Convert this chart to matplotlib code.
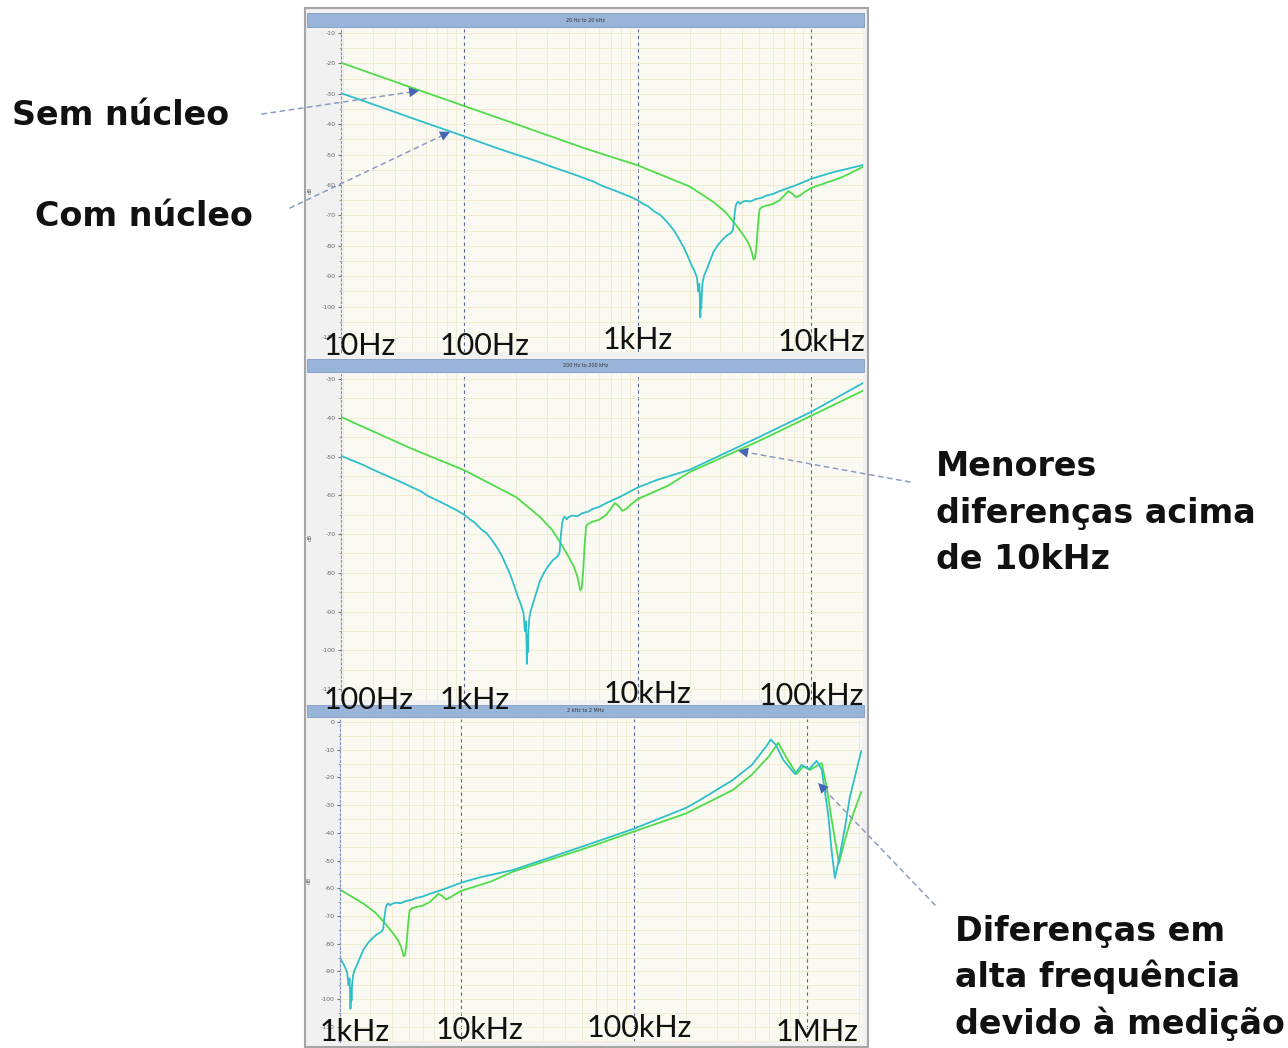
import numpy as np
import matplotlib.pyplot as plt
from matplotlib.patches import Rectangle
from matplotlib.ticker import LogLocator, MultipleLocator, NullFormatter

plt.rcParams['axes.unicode_minus'] = False

W, H = 1288, 1048

# "Sem núcleo" (green) - frequency in Hz, level in dB
freq_sem = [20, 50, 100, 200, 500, 1000, 2000, 2740, 3200, 3600, 4000, 4300, 4500,
            4670, 4760, 4850, 4950, 5050, 5200, 5500, 6000, 6600, 7000, 7400, 7800,
            8160, 8600, 9200, 10000, 15000, 20000, 50000, 100000, 200000, 373000,
            480000, 600000, 682000, 760000, 872000, 952000, 1040000, 1216000,
            1300000, 1360000, 1530000, 1650000, 1770000, 2060000]
db_sem = [-20, -28, -34, -40, -48, -53.5, -60.5, -65.6, -68.8, -72.3, -75.8, -78.5, -81,
          -84.5, -84, -80, -73, -68, -67.3, -66.8, -66.3, -65, -63.5, -62, -62.8,
          -64, -63.5, -62.3, -61, -57.5, -54, -46, -39.5, -33, -24.5,
          -19, -12.5, -7.5, -12.8, -18.8, -16, -17.3, -14.8,
          -23.4, -31.8, -51, -43, -36.5, -25.2]

# "Com núcleo" (cyan)
freq_com = [20, 30, 50, 76, 100, 150, 200, 260, 320, 400, 450, 500, 560, 620, 730, 800,
            850, 920, 1000, 1080, 1150, 1250, 1350, 1450, 1550, 1650, 1760, 1850, 1950,
            2050, 2120, 2200, 2240, 2270, 2290, 2300, 2315, 2330, 2350, 2380, 2420, 2500,
            2600, 2740, 2900, 3050, 3250, 3450, 3550, 3620, 3680, 3730, 3800, 3900, 4000,
            4200, 4500, 4800, 5200, 5500, 6000, 6600, 8000, 10000, 13000, 20000, 50000,
            100000, 200000, 240000, 373000, 480000, 580000, 617000, 660000, 730000,
            853000, 931000, 1030000, 1137000, 1216000, 1330000, 1380000, 1450000,
            1550000, 1660000, 1770000, 2060000]
db_com = [-30, -33.5, -38, -41.6, -44, -47.6, -50, -52.1, -54.0, -55.9, -56.9, -57.9, -58.9,
          -60.2, -61.7, -62.6, -63.2, -64.0, -65, -66.2, -67.0, -68.7, -69.8, -71.6, -73.5,
          -75.6, -78.4, -80.6, -83.5, -86.4, -88.0, -90.4, -95, -92.5, -98, -103.5, -96,
          -100.5, -94.5, -91.5, -89.8, -87.8, -85.3, -82, -79.8, -78.3, -76.7, -75.8,
          -74.8, -70, -67, -66, -65.5, -66.2, -65.6, -65.2, -65.4, -64.6, -64.2, -63.5,
          -63, -62, -60.3, -58, -56, -53.4, -45, -38.5, -31, -28.2, -20.9, -15.5, -8.9,
          -6.3, -8.2, -13.7, -18.8, -15.5, -17, -14, -17, -34, -45, -56.3,
          -48, -37.8, -27, -10.5]

titles = ['20 Hz to 20 kHz', '200 Hz to 200 kHz', '2 kHz to 2 MHz']
freq_labels = [['10Hz', '100Hz', '1kHz', '10kHz'],
               ['100Hz', '1kHz', '10kHz', '100kHz'],
               ['1kHz', '10kHz', '100kHz', '1MHz']]

green = '#4fdc4a'
cyan = '#2ebfcb'


def box(x0, y0, x1, y1):
    return [x0 / W, 1 - y1 / H, (x1 - x0) / W, (y1 - y0) / H]


fig = plt.figure(figsize=(W / 100, H / 100), dpi=100)
fig.patch.set_facecolor('white')

fig.add_artist(Rectangle((305 / W, 1 - 1047 / H), 563 / W, 1039 / H,
                         transform=fig.transFigure, facecolor='#f1f1f1',
                         edgecolor='#a5a5a5', lw=1.5, zorder=-5))

# layout of the three screenshots (pixels, top-left origin)
rects = [(341, 29, 863, 352), (341, 374, 863, 700), (340, 719, 862, 1042)]
bars = [(307, 13, 864, 27), (307, 359, 864, 372), (307, 705, 864, 717)]
xlims = [(19.5, 19950), (195, 199500), (2000, 2080000)]
ylims = [(-114.9, -8.7), (-112.8, -28.7), (-115.5, 1.1)]
label_pos = [[(360, 355), (485, 355), (638, 349), (822, 351)],
             [(369, 709), (475, 709), (648, 703), (811, 705)],
             [(355, 1041), (480, 1039), (639, 1037), (817, 1041)]]

axes = []
for i in range(3):
    x0, y0, x1, y1 = bars[i]
    fig.add_artist(Rectangle((x0 / W, 1 - y1 / H), (x1 - x0) / W, (y1 - y0) / H,
                             transform=fig.transFigure, facecolor='#98b4d8',
                             edgecolor='#7f9cc4', lw=0.6, zorder=-4))
    fig.text((x0 + x1) / 2 / W, 1 - (y0 + y1) / 2 / H, titles[i], fontsize=3.5,
             color='#333333', ha='center', va='center')

    ax = fig.add_axes(box(*rects[i]))
    ax.set_facecolor('#fbfaf2')
    ax.set_xscale('log')
    ax.plot(freq_sem, db_sem, color=green, lw=1.3)
    ax.plot(freq_com, db_com, color=cyan, lw=1.3)
    ax.set_xlim(*xlims[i])
    ax.set_ylim(*ylims[i])

    ax.xaxis.set_major_locator(LogLocator(base=10, numticks=12))
    ax.xaxis.set_minor_locator(LogLocator(base=10, subs=np.arange(2, 10), numticks=40))
    ax.xaxis.set_major_formatter(NullFormatter())
    ax.xaxis.set_minor_formatter(NullFormatter())
    ax.tick_params(axis='x', which='both', length=0)
    ax.yaxis.set_major_locator(MultipleLocator(10))
    ax.yaxis.set_minor_locator(MultipleLocator(5))
    ax.grid(which='minor', axis='x', color='#efeacd', lw=0.6)
    ax.grid(which='major', axis='x', color='#56648f', lw=0.8, ls=(0, (3, 3)))
    ax.grid(which='both', axis='y', color='#efeacd', lw=0.6)
    ax.set_axisbelow(True)
    ax.tick_params(axis='y', which='major', labelsize=4.5, labelcolor='#666666',
                   length=2.5, color='#777777', pad=1.5)
    ax.tick_params(axis='y', which='minor', length=1.2, color='#999999')
    for s in ['top', 'right', 'bottom']:
        ax.spines[s].set_visible(False)
    ax.spines['left'].set_linestyle((0, (2, 2)))
    ax.spines['left'].set_color('#8090c4')
    ax.set_ylabel('dB', fontsize=4, color='#666666', labelpad=6)
    axes.append(ax)

    for s, (x, y) in zip(freq_labels[i], label_pos[i]):
        fig.text(x / W, 1 - y / H, s, fontsize=22, family=['Lato', 'DejaVu Sans'],
                 color='#111111', ha='center', va='baseline', zorder=10)

# dashed shaft and solid blue head drawn separately
shaft = dict(arrowstyle='-', ls=(0, (3, 3)), lw=1.1, color='#8c9bc2',
             shrinkA=0, shrinkB=4)
head = dict(arrowstyle='-|>', lw=0, color='#4566b4', mutation_scale=18,
            shrinkA=0, shrinkB=0)
notes = [
    (0, ['Sem núcleo'], (12, 125), (55, -29), (262, 114)),
    (0, ['Com núcleo'], (35, 226), (83, -42.5), (290, 208)),
    (1, ['Menores', 'diferenças acima', 'de 10kHz'], (936, 476), (38000, -48.5), (910, 482)),
    (2, ['Diferenças em', 'alta frequência', 'devido à medição'], (955, 941), (1160000, -22), (935, 905)),
]
for k, lines, (tx, ty), target, (ax_, ay_) in notes:
    for j, line in enumerate(lines):
        fig.text(tx / W, 1 - (ty + 46.5 * j) / H, line, fontsize=24, fontweight='bold',
                 family='DejaVu Sans', color='#111111', ha='left', va='baseline')
    for props in (shaft, head):
        axes[k].annotate('', xy=target, xycoords='data',
                         xytext=(ax_ / W, 1 - ay_ / H), textcoords='figure fraction',
                         arrowprops=props, annotation_clip=False)

fig.savefig('out.png', dpi=100)
